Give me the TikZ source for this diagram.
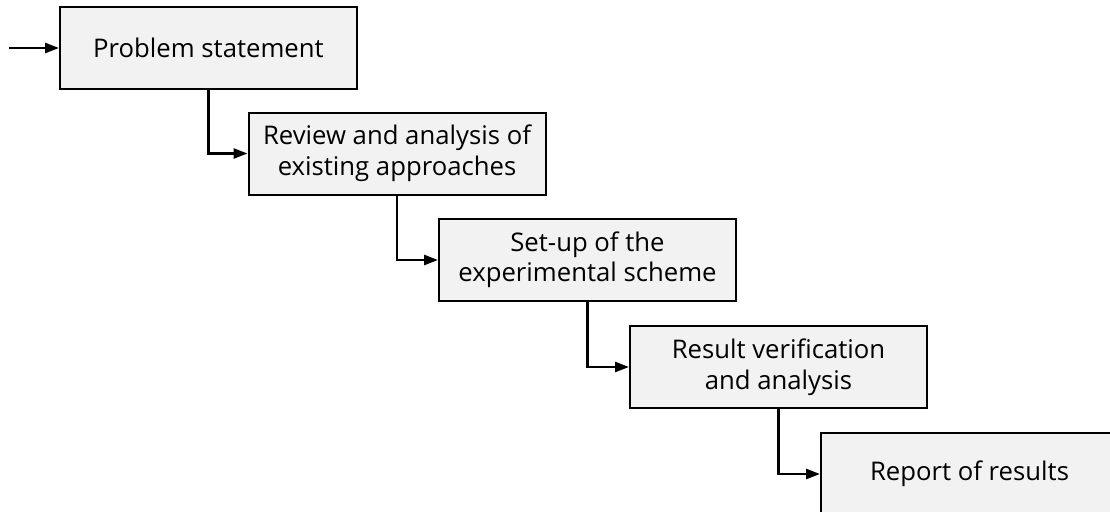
\documentclass[tikz,border=0pt]{standalone}
\usepackage{fontspec}
\setmainfont{Open Sans}
\usetikzlibrary{arrows.meta}
\definecolor{boxfill}{HTML}{F2F2F2}
\tikzset{
  stepbox/.style={draw=black, line width=2pt, fill=boxfill, minimum width=297pt, minimum height=82pt, align=center, inner sep=0pt, font=\fontsize{25.7}{30.5}\selectfont},
  conn/.style={line width=2.6pt, -{Triangle[length=14pt,width=10pt]}}
}
\begin{document}
\begin{tikzpicture}[x=1pt,y=-1pt]
\useasboundingbox (0,0) rectangle (1110,511);
\clip (0,0) rectangle (1110,511);
\node[stepbox] (b1) at (208.5,48) {Problem statement};
\node[stepbox] (b2) at (397,153.5) {Review and analysis of\\existing approaches};
\node[stepbox] (b3) at (587.5,260) {Set-up of the\\experimental scheme};
\node[stepbox] (b4) at (778.5,367) {Result verification\\and analysis};
\node[stepbox] (b5) at (969.5,474) {Report of results};
\coordinate (start) at (9,48);
\draw[conn] (start) -- (b1.west);
\draw[conn] (b1.south) |- (b2.west);
\draw[conn] (b2.south) |- (b3.west);
\draw[conn] (b3.south) |- (b4.west);
\draw[conn] (b4.south) |- (b5.west);
\end{tikzpicture}
\end{document}
